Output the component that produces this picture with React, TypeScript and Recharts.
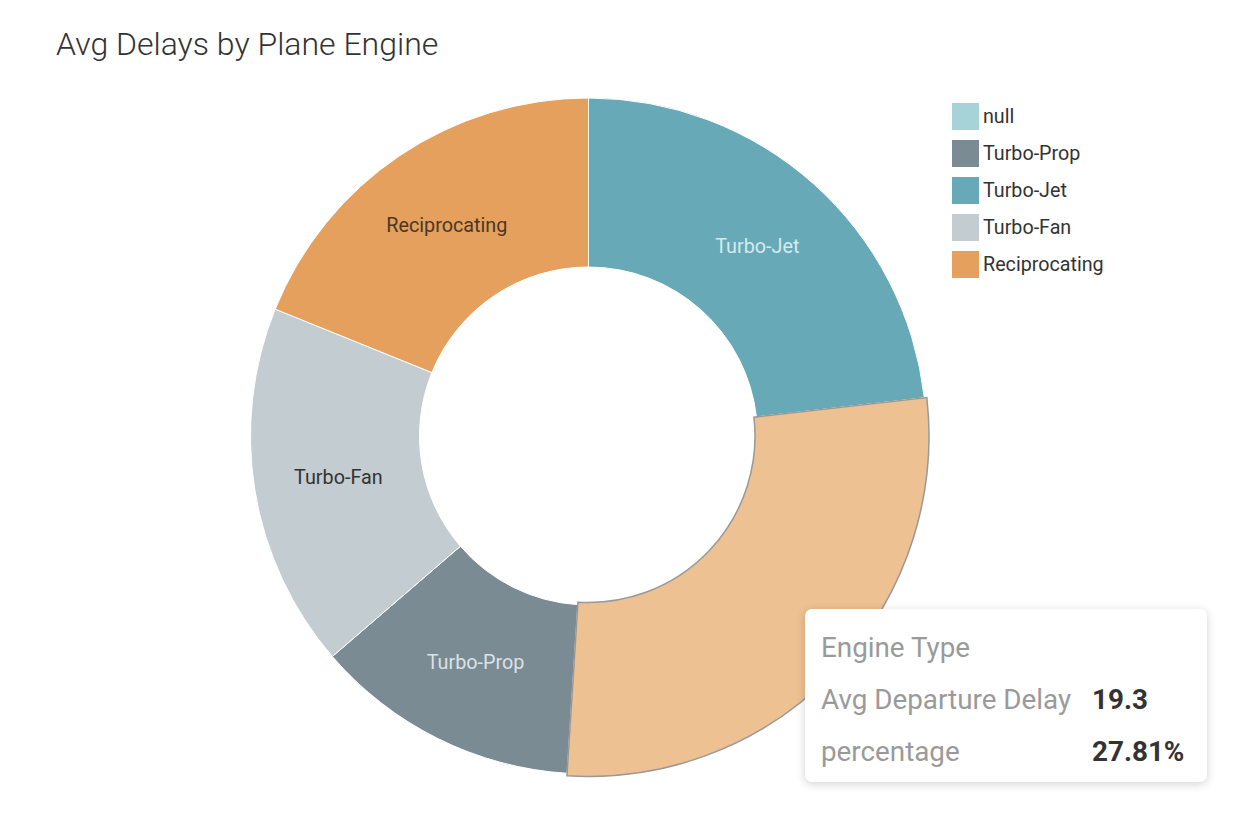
import { PieChart, Pie, Cell } from "recharts";

const engines = ["Turbo-Jet", "", "Turbo-Prop", "Turbo-Fan", "Reciprocating"];
const avgDelay = [16.1, 19.3, 8.8, 12.1, 13.1];
const legendNames = ["null", "Turbo-Prop", "Turbo-Jet", "Turbo-Fan", "Reciprocating"];

const sliceColors = ["#67a9b7", "#edc192", "#7a8b94", "#c3ccd1", "#e5a05d"];
const labelColors = ["#d4ebef", "#333", "#dce2e5", "#333333", "#4a3826"];
const legendColors = ["#a5d3d8", "#7a8b94", "#67a9b7", "#c3ccd1", "#e5a05d"];
const HOVER = 1;

const data = engines.map((name, i) => ({ name, value: avgDelay[i] }));
const total = avgDelay.reduce((a, b) => a + b, 0);

const RAD = Math.PI / 180;
const FONT = "Roboto, 'Noto Sans', sans-serif";
const NO_MARGIN = { top: 0, right: 0, bottom: 0, left: 0 };

function SliceLabel(props: any) {
  const { cx, cy, midAngle, innerRadius, outerRadius, index, name } = props;
  if (!name) return null;
  const r = (innerRadius + outerRadius) / 2;
  const x = cx + r * Math.cos(-midAngle * RAD);
  const y = cy + r * Math.sin(-midAngle * RAD);
  return (
    <text
      x={x}
      y={y}
      fill={labelColors[index]}
      textAnchor="middle"
      dominantBaseline="central"
      fontSize={19.8}
      fontFamily={FONT}
    >
      {name}
    </text>
  );
}

export default function App() {
  const pct = ((avgDelay[HOVER] / total) * 100).toFixed(2);
  return (
    <div
      style={{
        position: "absolute",
        left: 0,
        top: 0,
        width: 1254,
        height: 820,
        background: "#fff",
        fontFamily: FONT,
      }}
    >
      <div
        style={{
          position: "absolute",
          left: 56,
          top: 25,
          fontSize: 32,
          fontWeight: 300,
          color: "#333",
          whiteSpace: "nowrap",
        }}
      >
        Avg Delays by Plane Engine
      </div>

      <PieChart
        width={1254}
        height={820}
        margin={NO_MARGIN}
        style={{ position: "absolute", left: 0, top: 0 }}
      >
        <Pie
          data={data}
          dataKey="value"
          nameKey="name"
          cx={588.5}
          cy={436}
          innerRadius={169}
          outerRadius={338}
          startAngle={90}
          endAngle={-270}
          stroke="#fff"
          strokeWidth={1}
          label={SliceLabel}
          labelLine={false}
          isAnimationActive={false}
        >
          {data.map((d, i) => (
            <Cell key={d.name + i} fill={sliceColors[i]} />
          ))}
        </Pie>
        {/* hovered slice, drawn a little larger with a grey outline */}
        <Pie
          data={data}
          dataKey="value"
          nameKey="name"
          cx={588.5}
          cy={436}
          innerRadius={166.5}
          outerRadius={340.5}
          startAngle={90}
          endAngle={-270}
          isAnimationActive={false}
        >
          {data.map((d, i) => (
            <Cell
              key={"h" + i}
              fill={i === HOVER ? sliceColors[i] : "none"}
              stroke={i === HOVER ? "#999" : "none"}
              strokeWidth={i === HOVER ? 1.5 : 0}
            />
          ))}
        </Pie>
      </PieChart>

      <div style={{ position: "absolute", left: 952, top: 103 }}>
        {legendNames.map((n, i) => (
          <div
            key={n}
            style={{ display: "flex", alignItems: "center", height: 27, marginBottom: 10 }}
          >
            <div style={{ width: 27, height: 27, background: legendColors[i] }} />
            <span style={{ marginLeft: 4, fontSize: 19.7, color: "#333" }}>{n}</span>
          </div>
        ))}
      </div>

      <div
        style={{
          position: "absolute",
          left: 805,
          top: 609,
          width: 402,
          height: 173,
          boxSizing: "border-box",
          padding: "13px 16px",
          background: "#fff",
          borderRadius: 7,
          boxShadow: "0 2px 10px rgba(0,0,0,0.18)",
          fontSize: 27.8,
          lineHeight: "52px",
          whiteSpace: "nowrap",
        }}
      >
        <div style={{ color: "#9a9a9a" }}>Engine Type</div>
        <div style={{ display: "flex" }}>
          <span style={{ color: "#9a9a9a", width: 271 }}>Avg Departure Delay</span>
          <span style={{ color: "#333", fontWeight: 700 }}>{avgDelay[HOVER]}</span>
        </div>
        <div style={{ display: "flex" }}>
          <span style={{ color: "#9a9a9a", width: 271 }}>percentage</span>
          <span style={{ color: "#333", fontWeight: 700 }}>{pct}%</span>
        </div>
      </div>
    </div>
  );
}
